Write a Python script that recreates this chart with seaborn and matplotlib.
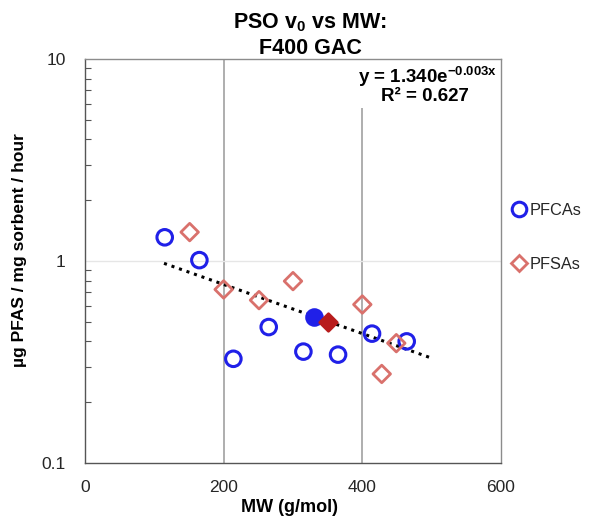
import numpy as np
import pandas as pd
import matplotlib
matplotlib.use("Agg")
import matplotlib.pyplot as plt
from matplotlib.lines import Line2D
from matplotlib.patches import Rectangle
import seaborn as sns

# ---- data ----
pfca_mw = [115, 165, 214, 265, 315, 365, 414, 464]
pfca_rate = [1.31, 1.01, 0.328, 0.471, 0.356, 0.344, 0.437, 0.40]
pfca_highlight_mw = [330]
pfca_highlight_rate = [0.528]

pfsa_mw = [151, 200, 251, 300, 400, 428, 449]
pfsa_rate = [1.39, 0.723, 0.64, 0.795, 0.609, 0.276, 0.392]
pfsa_highlight_mw = [350]
pfsa_highlight_rate = [0.499]

trend_a = 1.340
trend_b = -0.0028
trend_x_range = [114, 500]

x_ticks = [0, 200, 400, 600]
y_ticks = [0.1, 1, 10]
y_tick_labels = ["0.1", "1", "10"]
legend_labels = ["PFCAs", "PFSAs"]

# ---- style ----
sns.set_style("white")
plt.rcParams["font.family"] = ["Liberation Sans", "DejaVu Sans"]
plt.rcParams["mathtext.fontset"] = "custom"
plt.rcParams["mathtext.rm"] = "Liberation Sans"
plt.rcParams["mathtext.bf"] = "Liberation Sans:bold"
plt.rcParams["mathtext.default"] = "bf"

blue = "#2020e8"
salmon = "#d9716c"
darkred = "#b81c1c"

fig = plt.figure(figsize=(5.98, 5.22), dpi=100)
ax = fig.add_axes([0.1421, 0.1130, 0.6957, 0.7740])

# gridlines
for gx in [200, 400]:
    ax.axvline(gx, color="#a8a8a8", lw=1.3, zorder=0)
ax.axhline(1, color="#e6e6e6", lw=1.0, zorder=0)

# white background behind the equation
ax.add_patch(Rectangle((0.644, 0.879), 0.356, 0.121, transform=ax.transAxes,
                       fc="white", ec="none", zorder=1))

df_pfca = pd.DataFrame({"MW": pfca_mw, "rate": pfca_rate})
df_pfsa = pd.DataFrame({"MW": pfsa_mw, "rate": pfsa_rate})
df_pfca_h = pd.DataFrame({"MW": pfca_highlight_mw, "rate": pfca_highlight_rate})
df_pfsa_h = pd.DataFrame({"MW": pfsa_highlight_mw, "rate": pfsa_highlight_rate})

# trendline
tx = np.linspace(trend_x_range[0], trend_x_range[1], 200)
df_tr = pd.DataFrame({"MW": tx, "rate": trend_a * np.exp(trend_b * tx)})
sns.lineplot(data=df_tr, x="MW", y="rate", ax=ax, color="black", lw=2.2,
             linestyle=(0, (1, 1.6)), zorder=3)

sns.scatterplot(data=df_pfca, x="MW", y="rate", ax=ax, marker="o", s=125,
                facecolor="none", edgecolor=blue, linewidth=2.2, zorder=4)
sns.scatterplot(data=df_pfsa, x="MW", y="rate", ax=ax, marker="D", s=80,
                facecolor="none", edgecolor=salmon, linewidth=2.0, zorder=4)
sns.scatterplot(data=df_pfca_h, x="MW", y="rate", ax=ax, marker="o", s=125,
                facecolor=blue, edgecolor=blue, linewidth=2.2, zorder=5)
sns.scatterplot(data=df_pfsa_h, x="MW", y="rate", ax=ax, marker="D", s=80,
                facecolor=darkred, edgecolor=darkred, linewidth=2.0, zorder=5)

ax.set_yscale("log")
ax.set_xlim(0, 600)
ax.set_ylim(0.1, 10)
ax.set_xticks(x_ticks)
ax.set_xticklabels([str(v) for v in x_ticks], fontsize=12.5)
ax.set_yticks(y_ticks)
ax.set_yticklabels(y_tick_labels, fontsize=12.5)
ax.yaxis.set_minor_locator(matplotlib.ticker.LogLocator(base=10, subs=np.arange(2, 10)))
ax.yaxis.set_minor_formatter(matplotlib.ticker.NullFormatter())
ax.tick_params(axis="x", which="both", length=0, pad=12)
ax.tick_params(axis="y", which="major", length=0, pad=14)
ax.tick_params(axis="y", which="minor", direction="in", length=4, width=0.8,
               color="#555555", left=True)

for side in ["top", "right"]:
    ax.spines[side].set_color("#8c8c8c")
    ax.spines[side].set_linewidth(1.0)
for side in ["left", "bottom"]:
    ax.spines[side].set_color("#555555")
    ax.spines[side].set_linewidth(1.0)
for sp in ax.spines.values():
    sp.set_zorder(7)

ax.set_xlabel("MW (g/mol)", fontsize=13, fontweight="bold", color="black")
ax.xaxis.set_label_coords(0.4916, -0.089)
ax.set_ylabel("µg PFAS / mg sorbent / hour", fontsize=12.5, fontweight="bold", color="black")
ax.yaxis.set_label_coords(-0.139, 0.527)

# equation text
ax.text(0.8245, 0.9406, "y = 1.340e$^{-0.003x}$", transform=ax.transAxes,
        ha="center", va="baseline", fontsize=13.5, fontweight="bold", color="black", zorder=8)
ax.text(0.8166, 0.8953, "R² = 0.627", transform=ax.transAxes,
        ha="center", va="baseline", fontsize=13.5, fontweight="bold", color="black", zorder=8)

fig.text(0.519, 0.979, "PSO v$_0$ vs MW:\nF400 GAC", ha="center", va="top",
         fontsize=15.5, fontweight="bold", linespacing=1.28, color="black")

handles = [
    Line2D([], [], marker="o", ls="none", mfc="none", mec=blue, mew=2.2, ms=10.5),
    Line2D([], [], marker="D", ls="none", mfc="none", mec=salmon, mew=2.0, ms=8),
]
fig.legend(handles, legend_labels, loc="center left", bbox_to_anchor=(0.825, 0.545),
           frameon=False, fontsize=11.8, handletextpad=0.0, labelspacing=2.4,
           handlelength=1.3)

fig.savefig("out.png", dpi=100)
